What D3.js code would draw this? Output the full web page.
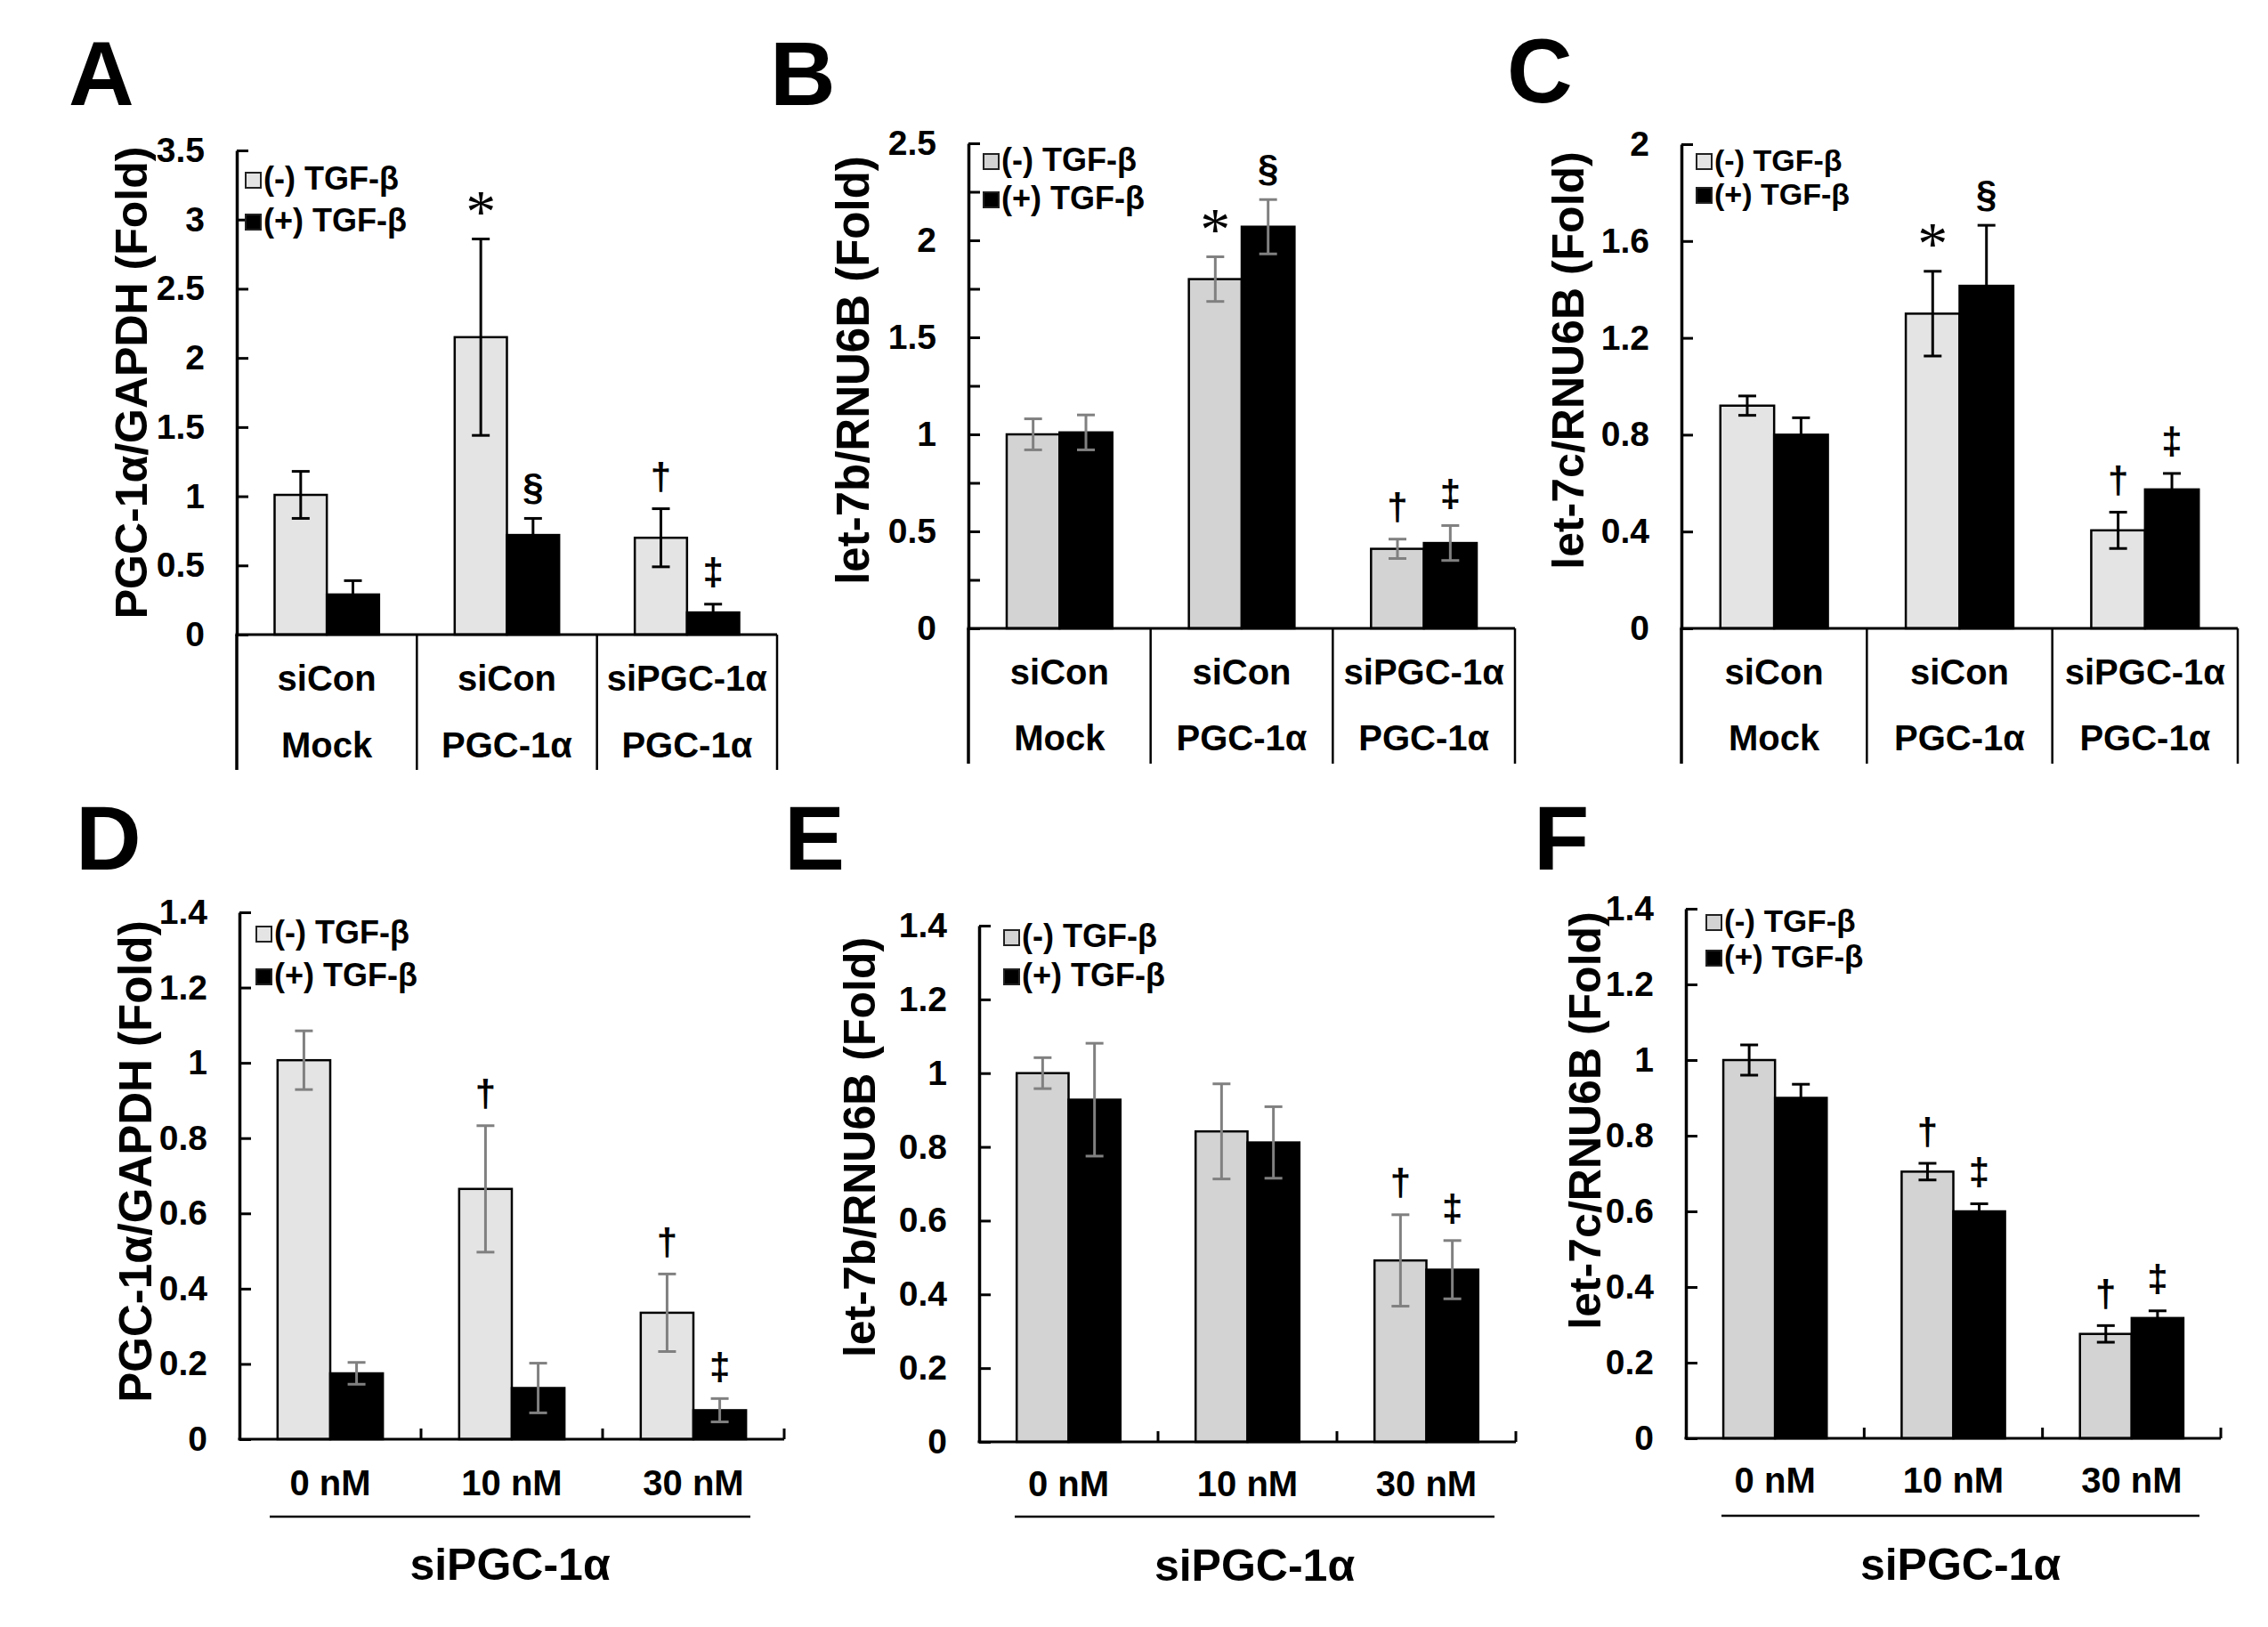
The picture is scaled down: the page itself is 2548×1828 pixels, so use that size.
<!DOCTYPE html>
<html>
<head>
<meta charset="utf-8">
<script src="https://cdn.jsdelivr.net/npm/d3@7/dist/d3.min.js"></script>
<style>
  body { margin: 0; background: #fff; }
  svg { display: block; }
</style>
</head>
<body>
<div id="chart"></div>
<script>
// ---- data ----
const seriesNames = ['(-) TGF-β', '(+) TGF-β'];
const topCategories = [['siCon', 'Mock'], ['siCon', 'PGC-1α'], ['siPGC-1α', 'PGC-1α']];
const doseCategories = ['0 nM', '10 nM', '30 nM'];
const doseGroupLabel = 'siPGC-1α';

// A: PGC-1a/GAPDH
const aMinus = [1.01, 2.15, 0.70];
const aMinusErr = [0.17, 0.71, 0.21];
const aPlus = [0.29, 0.72, 0.16];
const aPlusErr = [0.10, 0.12, 0.06];
const aMarks = [['', ''], ['*', '§'], ['†', '‡']];
const aTicks = [0, 0.5, 1, 1.5, 2, 2.5, 3, 3.5];
const aTickLabels = ['0', '0.5', '1', '1.5', '2', '2.5', '3', '3.5'];

// B: let-7b/RNU6B
const bMinus = [1.00, 1.80, 0.41];
const bMinusErr = [0.08, 0.115, 0.05];
const bPlus = [1.01, 2.07, 0.44];
const bPlusErr = [0.09, 0.14, 0.09];
const bMarks = [['', ''], ['*', '§'], ['†', '‡']];
const bTicks = [0, 0.25, 0.5, 0.75, 1, 1.25, 1.5, 1.75, 2, 2.25, 2.5];
const bTickLabels = ['0', '', '0.5', '', '1', '', '1.5', '', '2', '', '2.5'];

// C: let-7c/RNU6B
const cMinus = [0.92, 1.30, 0.405];
const cMinusErr = [0.04, 0.175, 0.075];
const cPlus = [0.80, 1.415, 0.574];
const cPlusErr = [0.07, 0.25, 0.066];
const cMarks = [['', ''], ['*', '§'], ['†', '‡']];
const cTicks = [0, 0.4, 0.8, 1.2, 1.6, 2];
const cTickLabels = ['0', '0.4', '0.8', '1.2', '1.6', '2'];

// D: PGC-1a/GAPDH vs siRNA dose
const dMinus = [1.007, 0.665, 0.336];
const dMinusErr = [0.078, 0.168, 0.103];
const dPlus = [0.175, 0.136, 0.077];
const dPlusErr = [0.029, 0.066, 0.031];
const dMarks = [['', ''], ['†', ''], ['†', '‡']];

// E: let-7b/RNU6B vs dose
const eMinus = [1.00, 0.842, 0.492];
const eMinusErr = [0.042, 0.129, 0.124];
const ePlus = [0.928, 0.812, 0.467];
const ePlusErr = [0.153, 0.097, 0.079];
const eMarks = [['', ''], ['', ''], ['†', '‡']];

// F: let-7c/RNU6B vs dose
const fMinus = [1.00, 0.705, 0.276];
const fMinusErr = [0.04, 0.022, 0.022];
const fPlus = [0.90, 0.60, 0.318];
const fPlusErr = [0.036, 0.02, 0.019];
const fMarks = [['', ''], ['†', '‡'], ['†', '‡']];

const doseTicks = [0, 0.2, 0.4, 0.6, 0.8, 1, 1.2, 1.4];
const doseTickLabels = ['0', '0.2', '0.4', '0.6', '0.8', '1', '1.2', '1.4'];

// ---- layout ----
const W = 2548, H = 1828;
const FONT = "'Liberation Sans', Arial, Helvetica, sans-serif";
const SERIF = "'Liberation Serif', 'Times New Roman', serif";
const LIGHT1 = '#e4e4e4', LIGHT2 = '#d3d3d3', GREY = '#808080';

const panels = [
  { letter: 'A', lx: 77, ly: 118, x0: 266, x1: 873, y0: 713, yTop: 169, yMax: 3.5,
    minus: aMinus, minusErr: aMinusErr, plus: aPlus, plusErr: aPlusErr, marks: aMarks,
    ticks: aTicks, tickLabels: aTickLabels, title: 'PGC-1α/GAPDH (Fold)', tx: 148, ty: 430, ts: 50,
    legX: 275, legY: 193, legGap: 47, legSize: 36, light: LIGHT1, err: '#000',
    kind: 'table', rowA: 49, rowB: 124, bottom: 865 },
  { letter: 'B', lx: 865, ly: 118, x0: 1088, x1: 1702, y0: 706, yTop: 161, yMax: 2.5,
    minus: bMinus, minusErr: bMinusErr, plus: bPlus, plusErr: bPlusErr, marks: bMarks,
    ticks: bTicks, tickLabels: bTickLabels, title: 'let-7b/RNU6B (Fold)', tx: 958, ty: 416, ts: 51,
    legX: 1104, legY: 172, legGap: 43, legSize: 36, light: LIGHT2, err: GREY,
    kind: 'table', rowA: 49, rowB: 123, bottom: 858 },
  { letter: 'C', lx: 1693, ly: 115, x0: 1889, x1: 2514, y0: 706, yTop: 162, yMax: 2,
    minus: cMinus, minusErr: cMinusErr, plus: cPlus, plusErr: cPlusErr, marks: cMarks,
    ticks: cTicks, tickLabels: cTickLabels, title: 'let-7c/RNU6B (Fold)', tx: 1762, ty: 405, ts: 50,
    legX: 1905, legY: 172, legGap: 38, legSize: 34, light: LIGHT1, err: '#000',
    kind: 'table', rowA: 49, rowB: 123, bottom: 858 },
  { letter: 'D', lx: 85, ly: 977, x0: 269, x1: 881, y0: 1617, yTop: 1025, yMax: 1.4,
    minus: dMinus, minusErr: dMinusErr, plus: dPlus, plusErr: dPlusErr, marks: dMarks,
    ticks: doseTicks, tickLabels: doseTickLabels, title: 'PGC-1α/GAPDH (Fold)', tx: 152, ty: 1305, ts: 51,
    legX: 287, legY: 1040, legGap: 48, legSize: 36, light: LIGHT1, err: GREY,
    kind: 'dose', rowA: 49, lineY: 87, groupY: 141, lineL: 303, lineR: 843 },
  { letter: 'E', lx: 881, ly: 977, x0: 1100, x1: 1703, y0: 1620, yTop: 1040, yMax: 1.4,
    minus: eMinus, minusErr: eMinusErr, plus: ePlus, plusErr: ePlusErr, marks: eMarks,
    ticks: doseTicks, tickLabels: doseTickLabels, title: 'let-7b/RNU6B (Fold)', tx: 966, ty: 1289, ts: 50,
    legX: 1127, legY: 1044, legGap: 44, legSize: 36, light: LIGHT2, err: GREY,
    kind: 'dose', rowA: 47, lineY: 84, groupY: 139, lineL: 1140, lineR: 1679 },
  { letter: 'F', lx: 1723, ly: 977, x0: 1894, x1: 2495, y0: 1616, yTop: 1021, yMax: 1.4,
    minus: fMinus, minusErr: fMinusErr, plus: fPlus, plusErr: fPlusErr, marks: fMarks,
    ticks: doseTicks, tickLabels: doseTickLabels, title: 'let-7c/RNU6B (Fold)', tx: 1781, ty: 1259, ts: 50,
    legX: 1916, legY: 1027, legGap: 40, legSize: 35, light: LIGHT2, err: '#000',
    kind: 'dose', rowA: 47, lineY: 87, groupY: 142, lineL: 1934, lineR: 2471 }
];

const svg = d3.select('#chart').append('svg')
  .attr('width', W)
  .attr('height', H)
  .attr('viewBox', '0 0 ' + W + ' ' + H)
  .style('font-family', FONT)
  .style('font-weight', 'bold');

svg.append('rect').attr('width', W).attr('height', H).attr('fill', '#fff');

panels.forEach(drawPanel);

function drawPanel (p) {
  let g = svg.append('g').attr('class', 'panel-' + p.letter);
  let nCat = p.minus.length;

  let x = d3.scaleBand()
    .domain(d3.range(nCat))
    .range([p.x0, p.x1])
    .paddingInner(0.42)
    .paddingOuter(0.21);
  let xs = d3.scaleBand().domain([0, 1]).range([0, x.bandwidth()]);
  let y = d3.scaleLinear().domain([0, p.yMax]).range([p.y0, p.yTop]);

  // panel letter
  g.append('text')
    .attr('x', p.lx)
    .attr('y', p.ly)
    .attr('font-size', 102)
    .text(p.letter);

  // y title
  g.append('text')
    .attr('transform', 'translate(' + p.tx + ',' + p.ty + ') rotate(-90)')
    .attr('text-anchor', 'middle')
    .attr('dominant-baseline', 'central')
    .attr('font-size', p.ts)
    .text(p.title);

  // bars
  let rows = d3.range(nCat).map(i => [
    { cat: i, s: 0, v: p.minus[i], e: p.minusErr[i], mark: p.marks[i][0] },
    { cat: i, s: 1, v: p.plus[i], e: p.plusErr[i], mark: p.marks[i][1] }
  ]).flat();

  g.selectAll('rect.bar')
    .data(rows)
    .enter()
    .append('rect')
    .attr('class', 'bar')
    .attr('x', d => x(d.cat) + xs(d.s))
    .attr('y', d => y(d.v))
    .attr('width', xs.bandwidth())
    .attr('height', d => y(0) - y(d.v))
    .attr('fill', d => d.s === 0 ? p.light : '#000')
    .attr('stroke', '#000')
    .attr('stroke-width', 2.5);

  // error bars
  let cap = 10;
  let eg = g.selectAll('g.err')
    .data(rows)
    .enter()
    .append('g')
    .attr('class', 'err')
    .attr('stroke', p.err)
    .attr('stroke-width', 3)
    .attr('transform', d => 'translate(' + (x(d.cat) + xs(d.s) + xs.bandwidth() / 2) + ',0)');
  eg.append('line')
    .attr('x1', 0).attr('x2', 0)
    .attr('y1', d => y(d.v - d.e))
    .attr('y2', d => y(d.v + d.e));
  eg.append('line')
    .attr('x1', -cap).attr('x2', cap)
    .attr('y1', d => y(d.v + d.e))
    .attr('y2', d => y(d.v + d.e));
  eg.append('line')
    .attr('x1', -cap).attr('x2', cap)
    .attr('y1', d => y(d.v - d.e))
    .attr('y2', d => y(d.v - d.e));

  // significance marks (the asterisk is a thin six-armed serif glyph in the figure)
  g.selectAll('text.mark')
    .data(rows.filter(d => d.mark !== ''))
    .enter()
    .append('text')
    .attr('class', 'mark')
    .attr('x', d => x(d.cat) + xs(d.s) + xs.bandwidth() / 2)
    .attr('y', d => y(d.v + d.e) - 36)
    .attr('dy', d => d.mark === '*' ? '0.06em' : 0)
    .attr('text-anchor', 'middle')
    .attr('dominant-baseline', 'central')
    .attr('font-family', d => d.mark === '*' ? SERIF : FONT)
    .attr('font-weight', d => d.mark === '*' ? 'normal' : 'bold')
    .attr('font-size', d => d.mark === '*' ? 68 : 42)
    .text(d => d.mark);

  // y axis
  let yAxis = d3.axisLeft(y)
    .tickValues(p.ticks)
    .tickFormat((d, i) => p.tickLabels[i])
    .tickSize(-13)
    .tickSizeOuter(0)
    .tickPadding(36);
  let ya = g.append('g')
    .attr('transform', 'translate(' + p.x0 + ',0)')
    .call(yAxis);
  ya.attr('font-family', FONT).attr('font-size', 39).attr('font-weight', 'bold');
  ya.select('.domain').attr('stroke', '#000').attr('stroke-width', 3.5);
  ya.selectAll('.tick line').attr('stroke', '#000').attr('stroke-width', 3);
  ya.selectAll('.tick text').attr('fill', '#000');

  // x axis baseline
  g.append('line')
    .attr('x1', p.x0 - 1.5).attr('x2', p.x1)
    .attr('y1', p.y0).attr('y2', p.y0)
    .attr('stroke', '#000').attr('stroke-width', 3);

  let bounds = d3.range(nCat + 1).map(i => p.x0 + i * x.step());

  if (p.kind === 'table') {
    // table-like category box under the axis
    g.selectAll('line.sep')
      .data(bounds)
      .enter()
      .append('line')
      .attr('class', 'sep')
      .attr('x1', d => d).attr('x2', d => d)
      .attr('y1', p.y0).attr('y2', p.bottom)
      .attr('stroke', '#000')
      .attr('stroke-width', (d, i) => i === 0 ? 3.5 : 2.5);

    let cats = g.selectAll('g.cat')
      .data(topCategories)
      .enter()
      .append('g')
      .attr('class', 'cat')
      .attr('transform', (d, i) => 'translate(' + (x(i) + x.bandwidth() / 2) + ',0)');
    cats.append('text')
      .attr('y', p.y0 + p.rowA)
      .attr('text-anchor', 'middle')
      .attr('dominant-baseline', 'central')
      .attr('font-size', 40)
      .text(d => d[0]);
    cats.append('text')
      .attr('y', p.y0 + p.rowB)
      .attr('text-anchor', 'middle')
      .attr('dominant-baseline', 'central')
      .attr('font-size', 40)
      .text(d => d[1]);
  } else {
    // small inside ticks at category boundaries
    g.selectAll('line.xtick')
      .data(bounds.slice(1))
      .enter()
      .append('line')
      .attr('class', 'xtick')
      .attr('x1', d => d).attr('x2', d => d)
      .attr('y1', p.y0).attr('y2', p.y0 - 12)
      .attr('stroke', '#000').attr('stroke-width', 3);

    g.selectAll('text.dose')
      .data(doseCategories)
      .enter()
      .append('text')
      .attr('class', 'dose')
      .attr('x', (d, i) => x(i) + x.bandwidth() / 2)
      .attr('y', p.y0 + p.rowA)
      .attr('text-anchor', 'middle')
      .attr('dominant-baseline', 'central')
      .attr('font-size', 40)
      .text(d => d);

    g.append('line')
      .attr('x1', p.lineL).attr('x2', p.lineR)
      .attr('y1', p.y0 + p.lineY).attr('y2', p.y0 + p.lineY)
      .attr('stroke', '#000').attr('stroke-width', 2.5);

    g.append('text')
      .attr('x', (p.lineL + p.lineR) / 2)
      .attr('y', p.y0 + p.groupY)
      .attr('text-anchor', 'middle')
      .attr('dominant-baseline', 'central')
      .attr('font-size', 50)
      .text(doseGroupLabel);
  }

  // legend
  let leg = g.selectAll('g.legend')
    .data(seriesNames)
    .enter()
    .append('g')
    .attr('class', 'legend')
    .attr('transform', (d, i) => 'translate(' + p.legX + ',' + (p.legY + i * p.legGap) + ')');
  leg.append('rect')
    .attr('x', 1).attr('y', 1)
    .attr('width', 17).attr('height', 17)
    .attr('fill', (d, i) => i === 0 ? p.light : '#000')
    .attr('stroke', '#222')
    .attr('stroke-width', 2);
  leg.append('text')
    .attr('x', 21)
    .attr('y', 20)
    .attr('font-size', p.legSize)
    .text(d => d);
}
</script>
</body>
</html>
